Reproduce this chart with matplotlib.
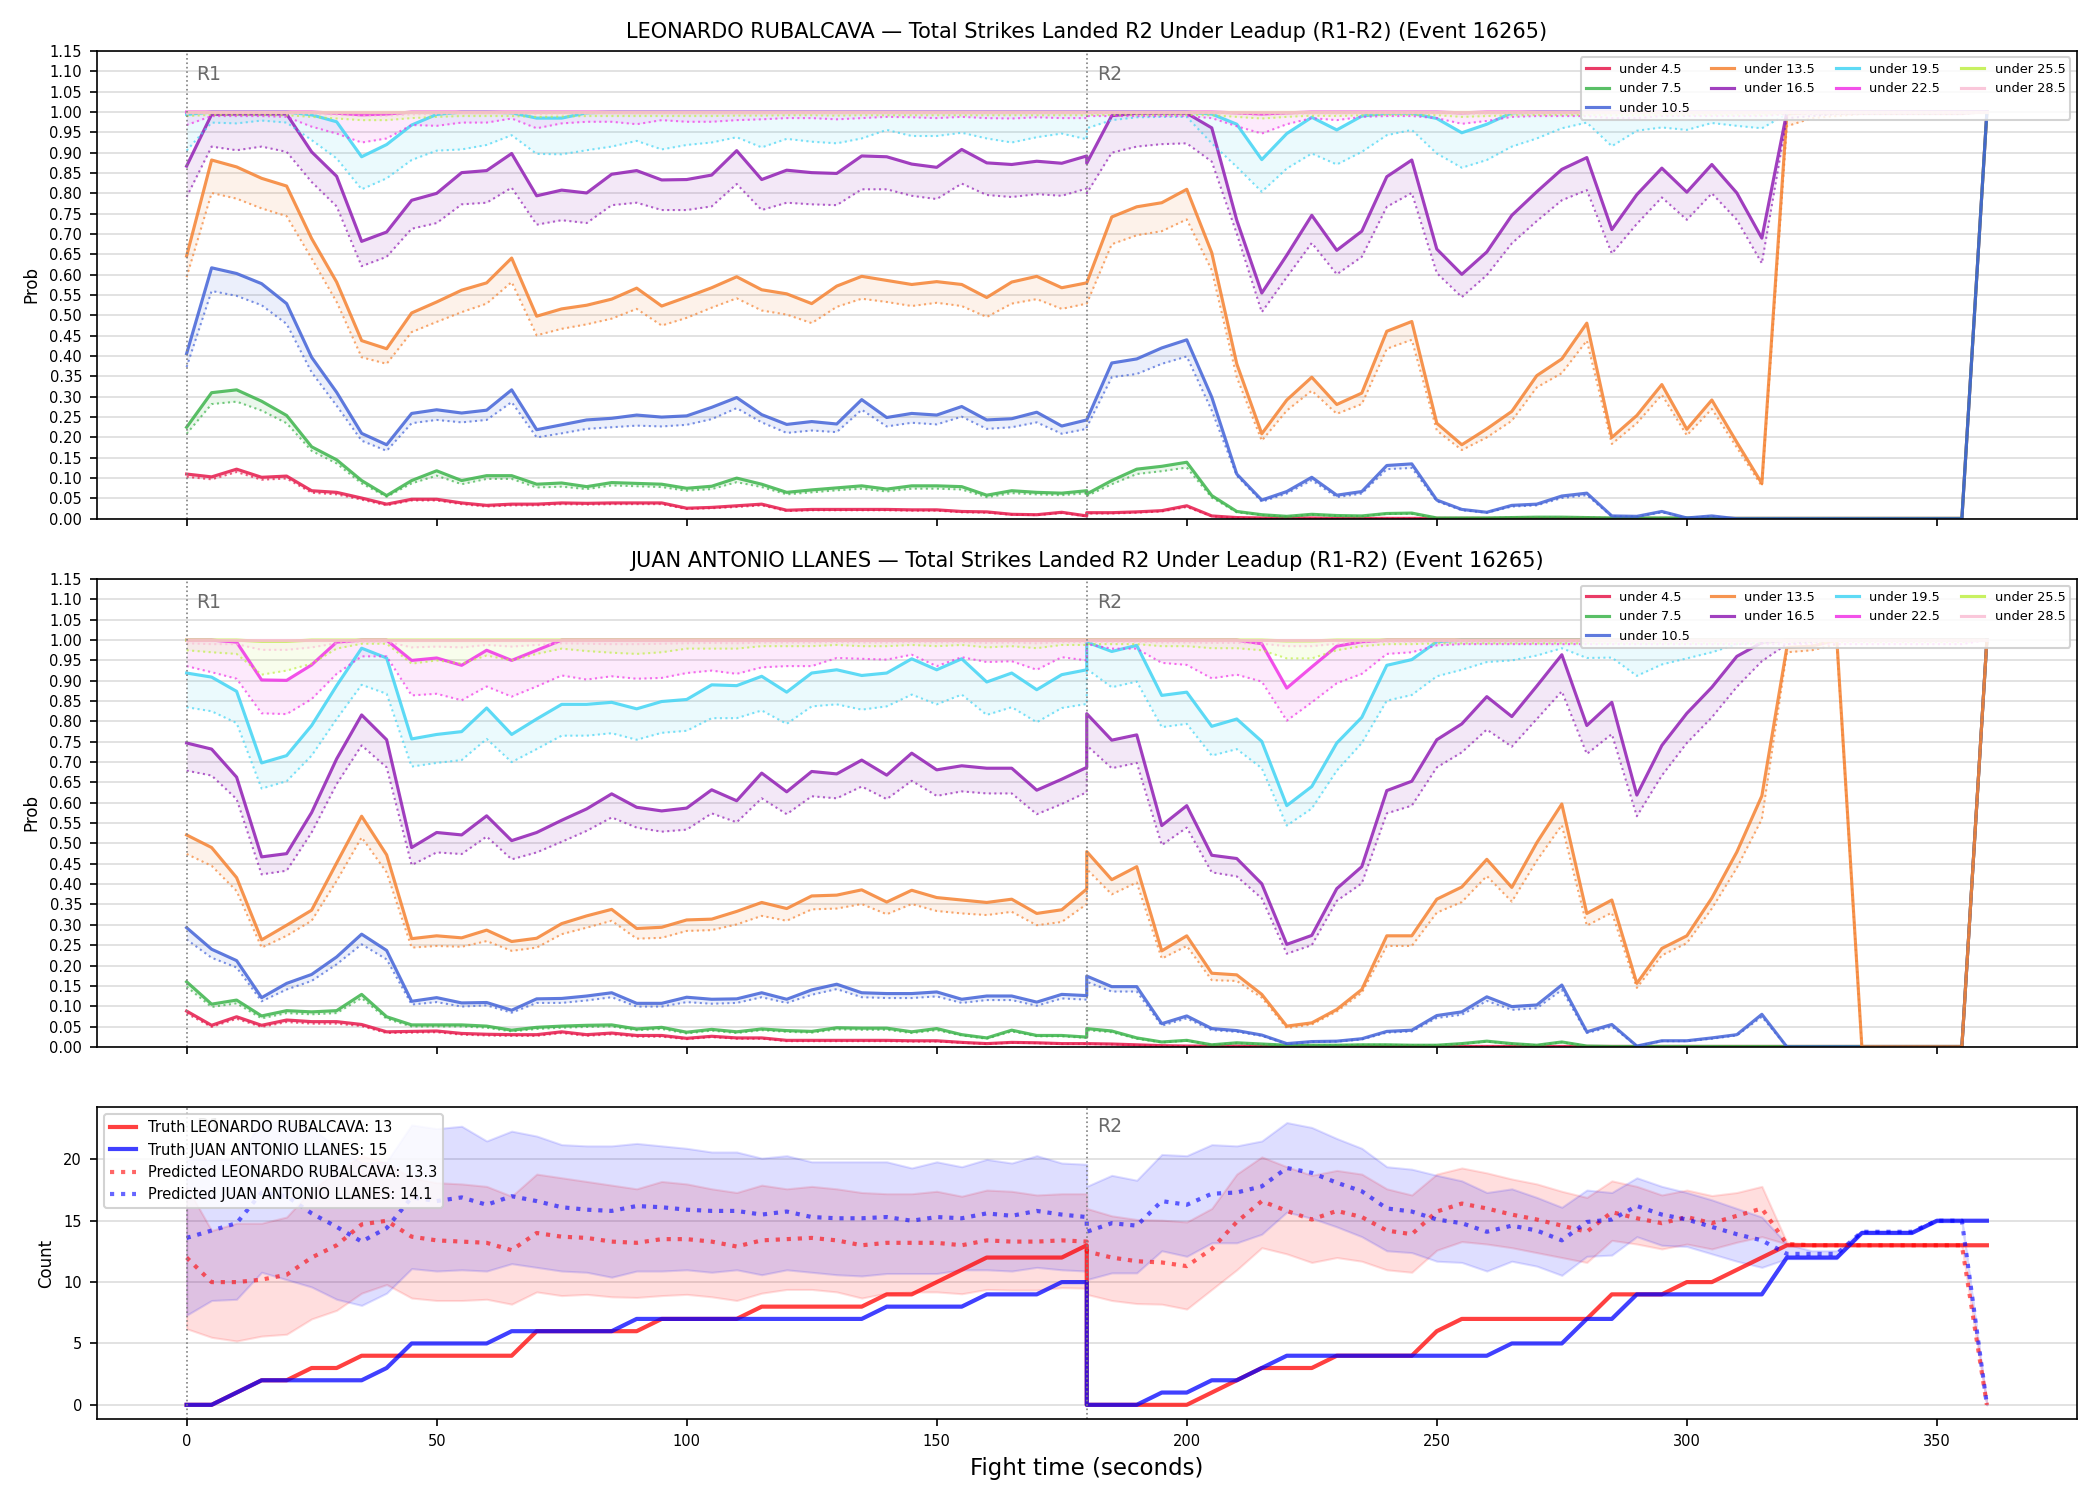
import numpy as np
import matplotlib
matplotlib.use('Agg')
import matplotlib.pyplot as plt
import matplotlib.transforms as mtransforms

# time axis: R1 0..180, R2 restarts at 180..360 (5 s steps)
t_r1 = list(range(0, 181, 5))
t_r2 = list(range(180, 361, 5))
t = np.array(t_r1 + t_r2)

thresholds = ['under 4.5', 'under 7.5', 'under 10.5', 'under 13.5', 'under 16.5',
              'under 19.5', 'under 22.5', 'under 25.5', 'under 28.5']
colors = ['#e6194b', '#3cb44b', '#4363d8', '#f58231', '#911eb4',
          '#42d4f4', '#f032e6', '#bfef45', '#fabed4']

# ---------------- LEONARDO RUBALCAVA (solid = prob, dotted = lower) ----------------
leo_u45 = [.110, .103, .122, .102, .105, .069, .065, .051, .036, .048, .048, .039, .033, .036, .036, .039, .038, .039, .039, .039,
           .026, .028, .032, .036, .021, .023, .023, .023, .023, .022, .022, .018, .017, .011, .010, .016, .007,
           .015, .015, .017, .020, .032, .007, .003, .002, .002, .002, .001, .001, .001, .001, .001, .001, .001, .001, .001, .001,
           .001, .001, .001, .001, .001, .001, .001, .001, .001, .001, .001, .001, .001, .001, .001, .001, 1.0]
leo_u45_lo = [.103, .097, .115, .096, .099, .064, .060, .047, .033, .045, .045, .036, .030, .033, .033, .036, .035, .036, .036, .036,
              .024, .026, .029, .033, .019, .021, .021, .021, .021, .020, .020, .016, .015, .010, .009, .014, .006,
              .013, .013, .015, .018, .029, .006, .002, .001, .001, .001, .001, .001, .001, .001, .001, .001, .001, .001, .001, .001,
              .001, .001, .001, .001, .001, .001, .001, .001, .001, .001, .001, .001, .001, .001, .001, .001, 1.0]
leo_u75 = [.225, .310, .317, .289, .254, .177, .145, .094, .057, .094, .118, .094, .106, .106, .085, .088, .079, .089, .087, .085,
           .075, .080, .100, .085, .065, .071, .076, .081, .073, .081, .081, .079, .058, .069, .065, .063, .069,
           .061, .094, .122, .129, .139, .057, .018, .010, .006, .011, .008, .007, .013, .014, .002, .002, .002, .003, .004, .004,
           .003, .002, .002, .002, .002, .001, .001, .001, .001, .001, .001, .001, .001, .001, .001, .001, 1.0]
leo_u75_lo = [.209, .282, .288, .266, .235, .167, .136, .087, .054, .087, .106, .085, .098, .098, .077, .079, .073, .082, .080, .078,
              .069, .073, .090, .078, .060, .065, .070, .074, .067, .074, .074, .072, .053, .063, .060, .058, .063,
              .056, .085, .110, .117, .126, .052, .016, .009, .005, .010, .007, .006, .012, .012, .002, .002, .002, .003, .003, .003,
              .003, .002, .002, .002, .002, .001, .001, .001, .001, .001, .001, .001, .001, .001, .001, .001, 1.0]
leo_u105 = [.406, .617, .603, .578, .529, .397, .311, .210, .182, .259, .268, .260, .267, .317, .219, .231, .243, .247, .255, .250,
            .253, .274, .298, .256, .232, .239, .233, .293, .249, .259, .255, .276, .243, .246, .262, .228, .243,
            .243, .383, .393, .420, .440, .299, .110, .046, .067, .102, .058, .067, .131, .135, .046, .023, .016, .033, .036, .056,
            .063, .007, .006, .018, .002, .007, .0, .0, .0, .0, .0, .0, .0, .0, .0, .0, 1.0]
leo_u105_lo = [.373, .560, .548, .525, .479, .360, .278, .192, .167, .235, .243, .237, .243, .287, .200, .210, .221, .225, .229, .227,
               .231, .245, .272, .237, .211, .217, .213, .268, .227, .236, .232, .251, .221, .225, .237, .209, .221,
               .225, .348, .356, .381, .399, .266, .106, .042, .062, .095, .053, .062, .122, .125, .043, .021, .015, .030, .033, .051,
               .058, .006, .005, .016, .002, .006, .0, .0, .0, .0, .0, .0, .0, .0, .0, .0, 1.0]
leo_u135 = [.646, .882, .865, .837, .818, .689, .582, .438, .418, .506, .533, .562, .580, .641, .498, .516, .525, .540, .567, .523,
            .545, .568, .595, .563, .553, .529, .572, .596, .586, .576, .583, .576, .544, .582, .596, .568, .580,
            .580, .742, .767, .777, .810, .654, .381, .209, .292, .348, .281, .309, .461, .485, .235, .182, .221, .264, .352, .393,
            .481, .200, .254, .330, .220, .292, .188, .087, .995, 1.0, 1.0, 1.0, 1.0, 1.0, 1.0, 1.0, 1.0]
leo_u135_lo = [.594, .801, .787, .763, .744, .640, .533, .397, .381, .459, .484, .508, .529, .582, .451, .467, .478, .492, .516, .475,
               .494, .519, .542, .512, .502, .481, .521, .541, .533, .523, .531, .523, .496, .529, .540, .516, .529,
               .529, .675, .697, .707, .736, .611, .348, .192, .266, .315, .258, .282, .418, .440, .217, .169, .200, .241, .323, .358,
               .438, .184, .235, .305, .205, .270, .175, .080, .965, .985, .990, .995, .995, .995, .995, .995, 1.0]
leo_u165 = [.867, .994, .995, .995, .995, .902, .842, .682, .705, .783, .800, .851, .856, .898, .794, .808, .801, .847, .856, .833,
            .834, .845, .905, .834, .857, .851, .849, .892, .890, .872, .864, .908, .875, .871, .879, .874, .892,
            .874, .991, .997, .997, .997, .961, .734, .555, .648, .746, .660, .707, .841, .882, .663, .601, .656, .746, .804, .859,
            .888, .711, .797, .862, .803, .871, .801, .690, 1.0, 1.0, 1.0, 1.0, 1.0, 1.0, 1.0, 1.0, 1.0]
leo_u165_lo = [.791, .915, .906, .915, .902, .828, .768, .621, .644, .713, .727, .773, .777, .814, .723, .734, .727, .771, .777, .759,
               .759, .768, .823, .759, .777, .773, .771, .810, .810, .794, .786, .824, .796, .791, .798, .794, .812,
               .800, .900, .915, .921, .923, .878, .701, .508, .594, .678, .601, .644, .767, .801, .604, .545, .599, .677, .732, .783,
               .808, .652, .725, .790, .735, .800, .735, .628, .985, .990, .995, .995, .995, .995, .995, .995, 1.0]
leo_u195 = [.994, 1.0, 1.0, 1.0, 1.0, .993, .976, .890, .920, .968, .994, 1.0, 1.0, .998, .985, .985, .998, 1.0, 1.0, 1.0,
            1.0, 1.0, 1.0, 1.0, 1.0, 1.0, 1.0, 1.0, 1.0, 1.0, 1.0, 1.0, 1.0, 1.0, 1.0, 1.0, 1.0,
            1.0, 1.0, 1.0, 1.0, 1.0, .995, .970, .883, .947, .987, .956, .990, .997, .997, .984, .949, .970, .998, 1.0, 1.0,
            1.0, 1.0, 1.0, 1.0, 1.0, 1.0, 1.0, 1.0, 1.0, 1.0, 1.0, 1.0, 1.0, 1.0, 1.0, 1.0, 1.0]
leo_u195_lo = [.905, .974, .972, .979, .974, .931, .886, .810, .837, .882, .905, .908, .919, .943, .897, .896, .906, .915, .929, .908,
               .919, .925, .938, .913, .934, .927, .923, .935, .956, .941, .941, .949, .935, .925, .938, .947, .933,
               .960, .980, .987, .988, .988, .923, .865, .804, .861, .898, .871, .902, .943, .956, .898, .863, .882, .915, .935, .960,
               .974, .916, .954, .962, .956, .973, .966, .960, .995, 1.0, 1.0, 1.0, 1.0, 1.0, 1.0, 1.0, 1.0]
leo_u225 = [1.0, 1.0, 1.0, 1.0, 1.0, 1.0, .997, .993, .995, 1.0, 1.0, 1.0, 1.0, 1.0, 1.0, 1.0, 1.0, 1.0, 1.0, 1.0,
            1.0, 1.0, 1.0, 1.0, 1.0, 1.0, 1.0, 1.0, 1.0, 1.0, 1.0, 1.0, 1.0, 1.0, 1.0, 1.0, 1.0,
            1.0, 1.0, 1.0, 1.0, 1.0, 1.0, .998, .995, .998, 1.0, 1.0, 1.0, 1.0, 1.0, 1.0, .998, 1.0, 1.0, 1.0, 1.0,
            1.0, 1.0, 1.0, 1.0, 1.0, 1.0, 1.0, 1.0, 1.0, 1.0, 1.0, 1.0, 1.0, 1.0, 1.0, 1.0, 1.0]
leo_u225_lo = [.968, .990, .990, .990, .988, .964, .947, .925, .935, .968, .966, .974, .974, .984, .960, .972, .976, .976, .970, .980,
               .976, .976, .980, .982, .985, .985, .982, .985, .988, .987, .985, .988, .985, .984, .987, .985, .985,
               .990, .990, .990, .990, .990, .985, .965, .947, .970, .985, .980, .988, .990, .990, .985, .971, .978, .988, .990, .990,
               .990, .985, .985, .990, .990, .990, .990, .990, .995, .995, .995, .995, .995, .995, .995, .995, 1.0]
leo_u255 = [1.0] * 74
leo_u255_lo = [.990, .993, .993, .993, .992, .988, .984, .980, .980, .985, .988, .990, .990, .990, .988, .989, .990, .990, .990, .990,
               .990, .990, .991, .991, .992, .992, .991, .992, .992, .992, .992, .992, .992, .992, .992, .992, .992,
               .993, .993, .993, .993, .993, .992, .988, .984, .988, .991, .990, .992, .993, .993, .992, .988, .990, .992, .993, .993,
               .993, .992, .992, .993, .993, .993, .993, .993, .996, .996, .996, .996, .996, .996, .996, .996, 1.0]
leo_u285 = [1.0] * 74
leo_u285_lo = [.995, .997, .997, .997, .996, .995, .993, .991, .991, .994, .995, .996, .996, .996, .995, .996, .996, .996, .996, .996,
               .996, .996, .996, .996, .997, .997, .996, .997, .997, .997, .997, .997, .997, .997, .997, .997, .997,
               .997, .997, .997, .997, .997, .997, .995, .993, .995, .996, .996, .997, .997, .997, .997, .995, .996, .997, .997, .997,
               .997, .997, .997, .997, .997, .997, .997, .997, .998, .998, .998, .998, .998, .998, .998, .998, 1.0]

# ---------------- JUAN ANTONIO LLANES ----------------
juan_u45 = [.088, .053, .074, .053, .066, .062, .062, .055, .037, .038, .039, .033, .031, .030, .030, .037, .030, .034, .028, .028,
            .021, .026, .022, .022, .016, .016, .016, .016, .016, .015, .015, .011, .008, .011, .010, .008, .008,
            .008, .007, .005, .003, .002, .002, .002, .001, .001, .001, .001, .001, .001, .001, .001, .001, .001, .001, .001, .001,
            .001, .001, .001, .001, .001, .001, .001, .001, .001, .001, .001, .001, .001, .001, .001, .001, 1.0]
juan_u45_lo = [.082, .049, .069, .049, .061, .057, .057, .051, .034, .035, .036, .030, .028, .027, .027, .034, .027, .031, .025, .025,
               .019, .024, .020, .020, .014, .014, .014, .014, .014, .013, .013, .010, .007, .010, .009, .007, .007,
               .007, .006, .004, .002, .002, .001, .001, .001, .001, .001, .001, .001, .001, .001, .001, .001, .001, .001, .001, .001,
               .001, .001, .001, .001, .001, .001, .001, .001, .001, .001, .001, .001, .001, .001, .001, .001, 1.0]
juan_u75 = [.160, .105, .115, .076, .089, .086, .089, .129, .074, .054, .054, .054, .051, .041, .048, .051, .053, .054, .044, .048,
            .036, .043, .037, .044, .040, .038, .047, .046, .046, .037, .045, .030, .022, .041, .028, .028, .024,
            .045, .039, .022, .012, .016, .005, .010, .007, .004, .004, .004, .005, .005, .004, .004, .008, .014, .008, .004, .012,
            .002, .001, .001, .001, .001, .001, .001, .001, .001, .001, .001, .001, .001, .001, .001, .001, 1.0]
juan_u75_lo = [.148, .098, .107, .070, .083, .080, .083, .120, .069, .050, .050, .050, .047, .038, .044, .047, .049, .050, .041, .044,
               .033, .040, .034, .041, .037, .035, .043, .042, .042, .034, .041, .028, .020, .038, .026, .026, .022,
               .041, .036, .020, .011, .015, .005, .009, .006, .004, .004, .004, .005, .005, .004, .004, .007, .013, .007, .004, .011,
               .002, .001, .001, .001, .001, .001, .001, .001, .001, .001, .001, .001, .001, .001, .001, .001, 1.0]
juan_u105 = [.293, .240, .212, .121, .156, .178, .221, .277, .237, .112, .121, .108, .109, .090, .118, .119, .125, .133, .107, .107,
             .122, .117, .118, .133, .117, .140, .154, .133, .131, .131, .135, .117, .125, .125, .110, .129, .126,
             .174, .148, .148, .057, .076, .045, .040, .029, .008, .013, .014, .020, .038, .041, .077, .086, .123, .099, .103, .152,
             .037, .055, .002, .015, .015, .022, .030, .080, .0, .0, .0, .0, .0, .0, .0, .0, 1.0]
juan_u105_lo = [.264, .219, .195, .112, .141, .162, .203, .252, .215, .104, .110, .099, .102, .084, .108, .108, .114, .122, .099, .099,
                .110, .106, .108, .122, .108, .128, .142, .122, .120, .120, .124, .108, .115, .115, .101, .119, .116,
                .160, .136, .136, .052, .070, .041, .037, .027, .007, .012, .013, .018, .035, .038, .071, .079, .113, .091, .095, .140,
                .034, .050, .002, .014, .014, .020, .028, .074, .0, .0, .0, .0, .0, .0, .0, .0, 1.0]
juan_u135 = [.521, .490, .416, .263, .299, .336, .452, .567, .472, .266, .273, .268, .287, .259, .267, .303, .322, .338, .291, .294,
             .312, .314, .333, .355, .340, .371, .373, .386, .356, .385, .367, .361, .355, .363, .328, .337, .388,
             .480, .411, .443, .236, .273, .181, .177, .129, .051, .059, .092, .141, .273, .273, .363, .393, .461, .392, .502, .597,
             .328, .361, .156, .242, .273, .366, .479, .617, .982, .985, 1.0, .0, .0, .0, .0, .0, 1.0]
juan_u135_lo = [.474, .445, .383, .244, .273, .310, .408, .515, .429, .244, .248, .246, .260, .236, .244, .277, .293, .310, .266, .268,
                .285, .287, .301, .322, .310, .338, .340, .351, .326, .351, .334, .328, .324, .332, .299, .307, .351,
                .437, .375, .404, .217, .248, .164, .162, .121, .046, .055, .087, .133, .248, .248, .330, .356, .420, .357, .458, .545,
                .298, .330, .145, .225, .255, .340, .440, .560, .970, .975, .990, .0, .0, .0, .0, .0, 1.0]
juan_u165 = [.747, .732, .663, .467, .475, .576, .708, .816, .755, .490, .527, .521, .568, .507, .527, .557, .585, .622, .589, .580,
             .587, .632, .605, .673, .627, .677, .671, .705, .668, .722, .681, .691, .685, .685, .631, .658, .687,
             .819, .754, .767, .544, .593, .471, .463, .401, .252, .274, .389, .443, .630, .653, .755, .794, .861, .812, .887, .964,
             .790, .847, .619, .741, .820, .884, .960, .994, 1.0, 1.0, 1.0, 1.0, 1.0, 1.0, 1.0, 1.0, 1.0]
juan_u165_lo = [.679, .667, .609, .424, .433, .527, .646, .741, .687, .447, .478, .474, .517, .461, .478, .504, .531, .564, .539, .529,
                .534, .574, .552, .611, .572, .616, .611, .640, .609, .654, .617, .628, .623, .623, .572, .597, .626,
                .741, .685, .698, .496, .539, .429, .419, .365, .229, .250, .359, .402, .574, .593, .687, .724, .780, .738, .806, .874,
                .720, .769, .567, .667, .747, .810, .885, .948, .990, .995, 1.0, 1.0, 1.0, 1.0, 1.0, 1.0, 1.0]
juan_u195 = [.919, .909, .874, .698, .716, .790, .888, .980, .956, .757, .768, .775, .833, .768, .806, .842, .842, .847, .831, .849,
             .854, .890, .888, .911, .872, .919, .927, .913, .919, .954, .927, .954, .897, .919, .878, .915, .927,
             .995, .972, .987, .864, .872, .788, .806, .751, .593, .640, .747, .810, .938, .952, .996, 1.0, 1.0, 1.0, 1.0, 1.0,
             1.0, 1.0, 1.0, 1.0, 1.0, 1.0, 1.0, 1.0, 1.0, 1.0, 1.0, 1.0, 1.0, 1.0, 1.0, 1.0, 1.0]
juan_u195_lo = [.835, .825, .796, .635, .653, .716, .806, .890, .868, .689, .698, .705, .757, .700, .732, .765, .765, .771, .755, .772,
                .777, .808, .808, .827, .794, .837, .842, .829, .837, .866, .842, .866, .816, .835, .798, .833, .843,
                .929, .884, .898, .786, .794, .716, .732, .685, .544, .586, .679, .747, .851, .865, .911, .927, .946, .950, .962, .980,
                .956, .957, .912, .940, .955, .970, .990, .995, 1.0, 1.0, 1.0, 1.0, 1.0, 1.0, 1.0, 1.0, 1.0]
juan_u225 = [1.0, 1.0, .995, .902, .901, .939, .995, 1.0, 1.0, .950, .956, .938, .975, .950, .975, 1.0, 1.0, 1.0, 1.0, 1.0,
             1.0, 1.0, 1.0, 1.0, 1.0, 1.0, 1.0, 1.0, 1.0, 1.0, 1.0, 1.0, 1.0, 1.0, 1.0, 1.0, 1.0,
             1.0, 1.0, 1.0, 1.0, 1.0, 1.0, 1.0, .991, .882, .934, .985, .996, 1.0, 1.0, 1.0, 1.0, 1.0, 1.0, 1.0, 1.0,
             1.0, 1.0, 1.0, 1.0, 1.0, 1.0, 1.0, 1.0, 1.0, 1.0, 1.0, 1.0, 1.0, 1.0, 1.0, 1.0, 1.0]
juan_u225_lo = [.936, .921, .905, .820, .818, .855, .917, .960, .960, .864, .868, .852, .886, .861, .886, .913, .903, .911, .905, .907,
                .919, .925, .917, .933, .936, .936, .956, .954, .952, .964, .936, .958, .946, .948, .927, .958, .950,
                .990, .979, .979, .944, .939, .906, .915, .898, .802, .847, .894, .917, .966, .970, .987, .990, .990, .990, .990, .990,
                .990, .990, .990, .990, .990, .990, .990, .990, .990, .990, .990, .990, .990, .990, .990, .990, 1.0]
juan_u255 = [1.0, 1.0, 1.0, .997, .997, 1.0, 1.0, 1.0, 1.0, 1.0, 1.0, 1.0, 1.0, 1.0, 1.0, 1.0, 1.0, 1.0, 1.0, 1.0,
             1.0, 1.0, 1.0, 1.0, 1.0, 1.0, 1.0, 1.0, 1.0, 1.0, 1.0, 1.0, 1.0, 1.0, 1.0, 1.0, 1.0,
             1.0, 1.0, 1.0, 1.0, 1.0, 1.0, 1.0, 1.0, .998, .998, 1.0, 1.0, 1.0, 1.0, 1.0, 1.0, 1.0, 1.0, 1.0, 1.0,
             1.0, 1.0, 1.0, 1.0, 1.0, 1.0, 1.0, 1.0, 1.0, 1.0, 1.0, 1.0, 1.0, 1.0, 1.0, 1.0, 1.0]
juan_u255_lo = [.975, .970, .966, .915, .925, .942, .979, .991, .991, .942, .950, .942, .962, .950, .966, .979, .973, .969, .966, .970,
                .979, .979, .979, .985, .985, .985, .988, .985, .985, .988, .985, .988, .982, .985, .980, .988, .988,
                .990, .990, .990, .985, .985, .980, .980, .975, .955, .955, .975, .985, .990, .990, .992, .992, .992, .992, .992, .992,
                .992, .992, .992, .992, .992, .992, .992, .992, .995, .995, .995, .995, .995, .995, .995, .995, 1.0]
juan_u285 = [1.0] * 74
juan_u285_lo = [.992, .990, .990, .976, .976, .982, .992, .996, .996, .982, .984, .982, .988, .984, .988, .992, .991, .990, .990, .991,
                .992, .993, .992, .994, .994, .994, .995, .994, .994, .995, .994, .995, .993, .994, .992, .995, .995,
                .996, .996, .996, .994, .994, .993, .993, .991, .985, .985, .991, .994, .996, .996, .997, .997, .997, .997, .997, .997,
                .997, .997, .997, .997, .997, .997, .997, .997, .998, .998, .998, .998, .998, .998, .998, .998, 1.0]

# ---------------- counts ----------------
truth_leo = [0, 0, 1, 2, 2, 3, 3, 4, 4, 4, 4, 4, 4, 4, 6, 6, 6, 6, 6, 7, 7, 7, 7, 8, 8, 8, 8, 8, 9, 9, 10, 11, 12, 12, 12, 12, 13,
             0, 0, 0, 0, 0, 1, 2, 3, 3, 3, 4, 4, 4, 4, 6, 7, 7, 7, 7, 7, 7, 9, 9, 9, 10, 10, 11, 12, 13, 13, 13, 13, 13, 13, 13, 13, 13]
truth_juan = [0, 0, 1, 2, 2, 2, 2, 2, 3, 5, 5, 5, 5, 6, 6, 6, 6, 6, 7, 7, 7, 7, 7, 7, 7, 7, 7, 7, 8, 8, 8, 8, 9, 9, 9, 10, 10,
              0, 0, 0, 1, 1, 2, 2, 3, 4, 4, 4, 4, 4, 4, 4, 4, 4, 5, 5, 5, 7, 7, 9, 9, 9, 9, 9, 9, 12, 12, 12, 14, 14, 14, 15, 15, 15]
pred_leo = [12.0, 10.0, 10.0, 10.2, 10.6, 12.0, 13.0, 14.7, 15.0, 13.7, 13.4, 13.3, 13.2, 12.6, 14.0, 13.7, 13.6, 13.3, 13.2, 13.5,
            13.5, 13.3, 12.9, 13.4, 13.5, 13.6, 13.4, 13.0, 13.2, 13.2, 13.2, 13.0, 13.4, 13.3, 13.3, 13.4, 13.3,
            12.5, 12.0, 11.7, 11.6, 11.3, 12.7, 14.9, 16.6, 15.8, 15.1, 15.8, 15.3, 14.2, 13.9, 15.75, 16.4, 16.0, 15.5, 15.1, 14.6,
            14.1, 15.7, 15.2, 14.8, 15.3, 14.8, 15.4, 16.0, 13.1, 13.0, 13.0, 13.0, 13.0, 13.0, 13.0, 13.0, 0.0]
pred_juan = [13.6, 14.2, 14.8, 17.3, 17.0, 15.6, 14.5, 13.3, 14.4, 16.9, 16.6, 16.9, 16.3, 17.0, 16.6, 16.1, 15.9, 15.8, 16.2, 16.1,
             15.9, 15.8, 15.8, 15.5, 15.75, 15.3, 15.2, 15.2, 15.3, 15.0, 15.3, 15.2, 15.6, 15.4, 15.8, 15.5, 15.3,
             14.1, 14.8, 14.6, 16.6, 16.3, 17.2, 17.3, 17.8, 19.3, 18.9, 18.1, 17.4, 16.0, 15.75, 15.1, 14.8, 14.1, 14.6, 14.2, 13.4,
             14.9, 15.1, 16.2, 15.5, 15.1, 14.5, 13.9, 13.4, 12.3, 12.3, 12.3, 14.1, 14.1, 14.1, 15.0, 15.0, 0.0]
leo_lo = [6.2, 5.5, 5.2, 5.6, 5.75, 7.0, 7.7, 9.1, 9.8, 8.7, 8.5, 8.5, 8.6, 8.2, 9.2, 8.9, 9.0, 8.8, 8.75, 8.9,
          9.0, 8.8, 8.5, 9.1, 9.4, 9.4, 9.2, 8.7, 9.1, 9.2, 9.2, 9.05, 9.4, 9.35, 9.35, 9.55, 9.5,
          9.0, 8.5, 8.25, 8.2, 7.8, 9.4, 11.0, 12.8, 12.3, 11.6, 12.0, 11.7, 11.0, 10.8, 12.6, 13.3, 13.1, 12.8, 12.4, 12.0,
          11.6, 13.4, 13.1, 12.7, 13.1, 12.7, 13.25, 13.7, 13.1, 13.0, 13.0, 13.0, 13.0, 13.0, 13.0, 13.0, 0.0]
leo_hi = [17.8, 14.2, 14.8, 14.8, 15.3, 17.5, 19.0, 20.3, 19.7, 18.5, 18.1, 18.0, 17.8, 17.0, 18.8, 18.5, 18.2, 17.9, 17.6, 18.2,
          18.0, 17.6, 17.3, 17.9, 17.6, 17.8, 17.6, 17.3, 17.2, 17.2, 17.4, 17.0, 17.5, 17.4, 17.1, 17.2, 17.2,
          16.0, 15.4, 15.1, 15.05, 14.9, 16.0, 18.8, 20.2, 19.4, 18.7, 19.1, 18.8, 17.6, 17.1, 18.8, 19.3, 18.9, 18.4, 18.0, 17.4,
          16.9, 18.25, 17.8, 17.1, 17.5, 17.05, 17.3, 17.8, 13.25, 13.1, 13.1, 13.1, 13.1, 13.1, 13.1, 13.1, 0.0]
juan_lo = [7.3, 8.5, 8.6, 10.8, 10.2, 9.6, 8.6, 8.1, 9.1, 11.1, 10.9, 11.0, 10.9, 11.5, 11.2, 10.9, 10.8, 10.4, 10.9, 10.9,
           11.0, 10.8, 11.0, 10.6, 11.0, 10.8, 10.6, 10.5, 10.7, 10.7, 10.7, 11.0, 11.0, 10.9, 11.2, 11.0, 10.9,
           10.2, 10.75, 10.75, 12.55, 12.1, 13.2, 13.2, 13.9, 15.7, 15.2, 14.5, 13.7, 12.55, 12.4, 11.7, 11.6, 10.9, 11.7, 11.3, 10.55,
           12.1, 12.2, 13.7, 13.0, 12.9, 12.3, 11.7, 11.2, 11.9, 11.9, 11.9, 14.0, 14.0, 14.0, 14.9, 14.9, 0.0]
juan_hi = [20.0, 20.0, 20.0, 23.1, 23.0, 22.5, 21.0, 19.7, 19.8, 22.8, 22.5, 22.7, 21.5, 22.3, 21.9, 21.2, 21.1, 21.1, 21.3, 21.1,
           20.9, 20.6, 20.6, 20.1, 20.3, 19.8, 19.8, 19.8, 19.8, 19.3, 19.8, 19.4, 20.0, 19.7, 20.3, 19.7, 19.6,
           17.8, 18.7, 18.3, 20.4, 20.3, 21.2, 21.1, 21.5, 23.0, 22.6, 21.7, 20.9, 19.4, 19.2, 18.7, 18.25, 17.3, 17.6, 16.9, 16.1,
           17.5, 17.3, 18.5, 17.8, 17.3, 16.7, 16.0, 15.3, 13.1, 12.55, 12.55, 14.2, 14.2, 14.2, 15.1, 15.1, 0.0]

leo_series = [(leo_u45, leo_u45_lo), (leo_u75, leo_u75_lo), (leo_u105, leo_u105_lo), (leo_u135, leo_u135_lo),
              (leo_u165, leo_u165_lo), (leo_u195, leo_u195_lo), (leo_u225, leo_u225_lo), (leo_u255, leo_u255_lo),
              (leo_u285, leo_u285_lo)]
juan_series = [(juan_u45, juan_u45_lo), (juan_u75, juan_u75_lo), (juan_u105, juan_u105_lo), (juan_u135, juan_u135_lo),
               (juan_u165, juan_u165_lo), (juan_u195, juan_u195_lo), (juan_u225, juan_u225_lo), (juan_u255, juan_u255_lo),
               (juan_u285, juan_u285_lo)]

fig, axes = plt.subplots(3, 1, figsize=(14, 10), dpi=150, sharex=True,
                         gridspec_kw={'height_ratios': [3, 3, 2]})
plt.subplots_adjust(left=0.046, right=0.989, top=0.966, bottom=0.054, hspace=0.145)


def round_marks(ax, labels):
    trans = mtransforms.blended_transform_factory(ax.transData, ax.transAxes)
    for x0, lab in labels:
        ax.axvline(x0, color='gray', linestyle=':', linewidth=0.8)
        ax.text(x0 + 2, 0.97, lab, transform=trans, va='top', ha='left', color='dimgray', fontsize=9)


def prob_panel(ax, series, name):
    for (solid, lower), lab, c in zip(series, thresholds, colors):
        ax.fill_between(t, lower, solid, color=c, alpha=0.1, linewidth=0)
        ax.plot(t, lower, color=c, linestyle=':', linewidth=1.0, alpha=0.7)
        ax.plot(t, solid, color=c, linewidth=1.5, alpha=0.85, label=lab)
    round_marks(ax, [(0, 'R1'), (180, 'R2')])
    ax.set_ylim(0, 1.15)
    ax.set_yticks(np.arange(0, 1.151, 0.05))
    ax.tick_params(labelsize=7)
    ax.grid(axis='y', color='#dddddd', linewidth=0.8)
    ax.set_axisbelow(True)
    ax.set_ylabel('Prob', fontsize=8)
    ax.set_title(name + ' \u2014 Total Strikes Landed R2 Under Leadup (R1-R2) (Event 16265)', fontsize=10)
    ax.legend(loc='upper right', ncol=4, fontsize=6.2, framealpha=0.85, handlelength=1.8, columnspacing=1.6)


prob_panel(axes[0], leo_series, 'LEONARDO RUBALCAVA')
prob_panel(axes[1], juan_series, 'JUAN ANTONIO LLANES')

ax = axes[2]
ax.fill_between(t, leo_lo, leo_hi, color='red', alpha=0.13, linewidth=1)
ax.fill_between(t, juan_lo, juan_hi, color='blue', alpha=0.13, linewidth=1)
ax.plot(t, truth_leo, color='red', linewidth=2, alpha=0.75, label='Truth LEONARDO RUBALCAVA: 13')
ax.plot(t, truth_juan, color='blue', linewidth=2, alpha=0.75, label='Truth JUAN ANTONIO LLANES: 15')
ax.plot(t, pred_leo, color='red', linewidth=2, linestyle=':', alpha=0.6, label='Predicted LEONARDO RUBALCAVA: 13.3')
ax.plot(t, pred_juan, color='blue', linewidth=2, linestyle=':', alpha=0.6, label='Predicted JUAN ANTONIO LLANES: 14.1')
round_marks(ax, [(0, 'R1'), (180, 'R2')])
ax.set_yticks([0, 5, 10, 15, 20])
ax.tick_params(labelsize=7)
ax.grid(axis='y', color='#dddddd', linewidth=0.8)
ax.set_axisbelow(True)
ax.set_ylabel('Count', fontsize=8)
ax.set_xlabel('Fight time (seconds)', fontsize=11)
ax.legend(loc='upper left', fontsize=7, framealpha=0.85, handlelength=1.8)
ax.set_xticks(range(0, 351, 50))

plt.savefig('out.png', dpi=150)
